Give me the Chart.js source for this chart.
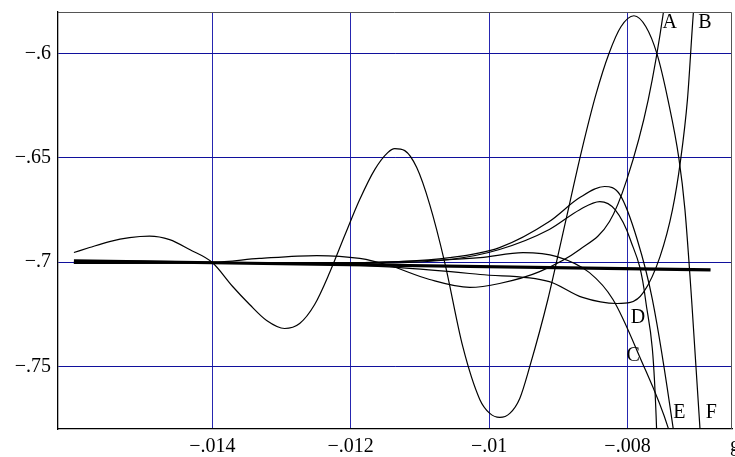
<!DOCTYPE html>
<html>
<head>
<meta charset="utf-8">
<script src="https://cdn.jsdelivr.net/npm/chart.js@4/dist/chart.umd.min.js"></script>
<style>
  html, body { margin: 0; padding: 0; background: #fff; }
  #wrap { width: 735px; height: 457px; position: relative; }
</style>
</head>
<body>
<div id="wrap"><canvas id="chart"></canvas></div>
<script>
// axis ticks and labels
const xTicks = [-0.014, -0.012, -0.01, -0.008];
const xTickLabels = ['\u2212.014', '\u2212.012', '\u2212.01', '\u2212.008'];
const yTicks = [-0.75, -0.7, -0.65, -0.6];
const yTickLabels = ['\u2212.75', '\u2212.7', '\u2212.65', '\u2212.6'];

// thick reference line
const refX = [-0.016, -0.0068];
const refY = [-0.6993, -0.7037];

// curve A
const aX = [-0.016, -0.01505, -0.014, -0.01332, -0.01249, -0.01187, -0.01144, -0.01086, -0.01028, -0.00985, -0.00927, -0.00869, -0.00826, -0.00801, -0.0077, -0.00748, -0.00744];
const aY = [-0.6997, -0.6995, -0.7, -0.6982, -0.6968, -0.6982, -0.7016, -0.7083, -0.7121, -0.7102, -0.7045, -0.6939, -0.6805, -0.6604, -0.622, -0.5799, -0.5693];

// curve B
const bX = [-0.016, -0.014, -0.01274, -0.01129, -0.01013, -0.00913, -0.00865, -0.00815, -0.00796, -0.00777, -0.00753, -0.00735, -0.007236, -0.007134, -0.007047, -0.007004];
const bY = [-0.7006, -0.7002, -0.7006, -0.7026, -0.7059, -0.7093, -0.7169, -0.7198, -0.7193, -0.7145, -0.6973, -0.6748, -0.65176, -0.62204, -0.57987, -0.56454];

// curve C
const cX = [-0.016, -0.014, -0.01274, -0.01129, -0.01013, -0.00951, -0.00902, -0.00855, -0.00821, -0.00782, -0.00741, -0.00735];
const cY = [-0.7002, -0.7002, -0.7006, -0.6997, -0.6978, -0.6954, -0.6973, -0.705, -0.7179, -0.7457, -0.7797, -0.7874];

// curve D
const dX = [-0.016, -0.014, -0.01202, -0.01057, -0.00985, -0.00913, -0.00869, -0.0084, -0.00818, -0.00796, -0.00774, -0.00758, -0.00757];
const dY = [-0.7006, -0.7002, -0.7006, -0.6987, -0.6939, -0.6843, -0.6748, -0.6709, -0.6748, -0.6891, -0.7179, -0.7797, -0.7945];

// curve E
const eX = [-0.016, -0.014, -0.01202, -0.01057, -0.00985, -0.00913, -0.00869, -0.00833, -0.00811, -0.00786, -0.00764, -0.00734, -0.0073];
const eY = [-0.7006, -0.7002, -0.7002, -0.6978, -0.693, -0.6805, -0.669, -0.6637, -0.6676, -0.6891, -0.7179, -0.7797, -0.79];

// curve F
const fX = [-0.016, -0.015774, -0.015486, -0.015196, -0.014907, -0.014617, -0.014328, -0.014, -0.013706, -0.013461, -0.013215, -0.012955,
            -0.012738, -0.012521, -0.012304, -0.012087, -0.01187, -0.011653, -0.011465, -0.011364, -0.011219, -0.011046, -0.010858, -0.010641,
            -0.010381, -0.010135, -0.00999, -0.009846, -0.009701, -0.009557, -0.009412, -0.009151, -0.008905, -0.008659, -0.008457, -0.008269,
            -0.008095, -0.007907, -0.007734, -0.007575, -0.007416, -0.007257, -0.00717, -0.007069, -0.006953, -0.00691];
const fY = [-0.69537, -0.69297, -0.6901, -0.68818, -0.68746, -0.68914, -0.69393, -0.70016, -0.71166, -0.72029, -0.72795, -0.73179,
            -0.72939, -0.72029, -0.70495, -0.68722, -0.66997, -0.65559, -0.64744, -0.64553, -0.64649, -0.65463, -0.67236, -0.70016,
            -0.74041, -0.76581, -0.77252, -0.77444, -0.77252, -0.76533, -0.75, -0.71789, -0.68195, -0.64601, -0.61965, -0.6,
            -0.58706, -0.58179, -0.58706, -0.6, -0.62204, -0.65032, -0.67476, -0.72029, -0.77971, -0.79936];

// curve labels
const labelText = ['A', 'B', 'C', 'D', 'E', 'F'];
const labelX = [-0.00739, -0.00688, -0.00792, -0.00785, -0.00725, -0.00679];
const labelY = [-0.5851, -0.5851, -0.7447, -0.7265, -0.772, -0.772];

const serif = '"Liberation Serif", "DejaVu Serif", serif';

function pts(xs, ys) {
    return xs.map((x, i) => ({ x: x, y: ys[i] }));
}

function curve(xs, ys) {
    return {
        data: pts(xs, ys),
        borderColor: '#000',
        borderWidth: 1.2,
        pointRadius: 0,
        cubicInterpolationMode: 'monotone',
        fill: false
    };
}

// Rahmen, Kurvenbuchstaben und "g"
const extras = {
    id: 'extras',
    afterDatasetsDraw(chart) {
        const ctx = chart.ctx;
        const a = chart.chartArea;
        const xs = chart.scales.x, ys = chart.scales.y;
        ctx.save();
        ctx.strokeStyle = '#555';
        ctx.lineWidth = 1;
        ctx.beginPath();
        ctx.moveTo(a.left, a.top + 0.5);
        ctx.lineTo(a.right - 0.5, a.top + 0.5);
        ctx.lineTo(a.right - 0.5, a.bottom);
        ctx.stroke();
        ctx.fillStyle = '#000';
        ctx.font = '20px ' + serif;
        ctx.textAlign = 'center';
        ctx.textBaseline = 'middle';
        labelText.forEach((t, i) => {
            ctx.fillText(t, xs.getPixelForValue(labelX[i]), ys.getPixelForValue(labelY[i]));
        });
        ctx.textAlign = 'left';
        ctx.fillText('g', a.right - 2, a.bottom + 17);
        ctx.restore();
    }
};

new Chart(document.getElementById('chart'), {
    type: 'line',
    data: {
        datasets: [
            curve(aX, aY), curve(bX, bY), curve(cX, cY),
            curve(dX, dY), curve(eX, eY), curve(fX, fY),
            {
                data: pts(refX, refY),
                borderColor: '#000',
                borderWidth: 3.2,
                pointRadius: 0,
                fill: false
            }
        ]
    },
    options: {
        responsive: true,
        maintainAspectRatio: false,
        animation: false,
        layout: { padding: { top: 12, right: 3, left: 0, bottom: 0 } },
        plugins: { legend: { display: false }, tooltip: { enabled: false } },
        scales: {
            x: {
                type: 'linear',
                min: -0.01623,
                max: -0.00649,
                afterBuildTicks: s => { s.ticks = xTicks.map(v => ({ value: v })); },
                afterFit: s => { s.height = 28; s.paddingLeft = 0; s.paddingRight = 0; },
                grid: { color: '#2626b0', lineWidth: 1, drawTicks: false },
                border: { color: '#000', width: 1.3 },
                ticks: {
                    color: '#000',
                    padding: 6,
                    maxRotation: 0,
                    font: { family: serif, size: 20 },
                    callback: v => xTickLabels[xTicks.indexOf(v)] ?? ''
                }
            },
            y: {
                type: 'linear',
                min: -0.78,
                max: -0.58,
                afterBuildTicks: s => { s.ticks = yTicks.map(v => ({ value: v })); },
                afterFit: s => { s.width = 58; s.paddingTop = 0; s.paddingBottom = 0; },
                grid: { color: '#10109c', lineWidth: 1, drawTicks: false },
                border: { color: '#000', width: 1.3 },
                ticks: {
                    color: '#000',
                    padding: 7,
                    font: { family: serif, size: 20 },
                    callback: v => yTickLabels[yTicks.indexOf(v)] ?? ''
                }
            }
        }
    },
    plugins: [extras]
});
</script>
</body>
</html>
